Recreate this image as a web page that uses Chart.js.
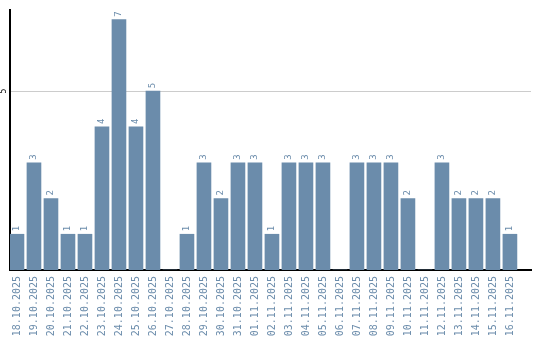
<!DOCTYPE html>
<html>
<head>
<meta charset="utf-8">
<script src="https://cdn.jsdelivr.net/npm/chart.js@4"></script>
<style>
  html, body { margin: 0; padding: 0; background: #fff; }
  #wrap { width: 540px; height: 340px; }
</style>
</head>
<body>
<div id="wrap"><canvas id="dayChart"></canvas></div>
<script>
const days = [
  "18.10.2025", "19.10.2025", "20.10.2025", "21.10.2025", "22.10.2025",
  "23.10.2025", "24.10.2025", "25.10.2025", "26.10.2025", "27.10.2025",
  "28.10.2025", "29.10.2025", "30.10.2025", "31.10.2025", "01.11.2025",
  "02.11.2025", "03.11.2025", "04.11.2025", "05.11.2025", "06.11.2025",
  "07.11.2025", "08.11.2025", "09.11.2025", "10.11.2025", "11.11.2025",
  "12.11.2025", "13.11.2025", "14.11.2025", "15.11.2025", "16.11.2025"
];

const counts = [
  1, 3, 2, 1, 1, 4, 7, 4, 5, 0,
  1, 3, 2, 3, 3, 1, 3, 3, 3, 0,
  3, 3, 3, 2, 0, 3, 2, 2, 2, 1
];

const yTicks = [5];

const barColor = "#6b8cab";
const monoFont = "'DejaVu Sans Mono', monospace";

// value labels above the bars, rotated like the date labels
const barLabels = {
  id: "barLabels",
  afterDatasetsDraw(chart) {
    const ctx = chart.ctx;
    const meta = chart.getDatasetMeta(0);
    ctx.save();
    ctx.fillStyle = barColor;
    ctx.font = "9px " + monoFont;
    ctx.textAlign = "left";
    ctx.textBaseline = "middle";
    meta.data.forEach((bar, i) => {
      if (!counts[i]) return;
      ctx.save();
      ctx.translate(bar.x, bar.y - 3);
      ctx.rotate(-Math.PI / 2);
      ctx.fillText(String(counts[i]), 0, 0);
      ctx.restore();
    });
    ctx.restore();
  }
};

// rotated y tick label
const yLabel = {
  id: "yLabel",
  afterDraw(chart) {
    const ctx = chart.ctx;
    const y = chart.scales.y;
    ctx.save();
    ctx.fillStyle = "#000";
    ctx.font = "8px " + monoFont;
    ctx.textAlign = "center";
    ctx.textBaseline = "middle";
    yTicks.forEach(v => {
      ctx.save();
      ctx.translate(4, y.getPixelForValue(v));
      ctx.rotate(-Math.PI / 2);
      ctx.fillText(String(v), 0, 0);
      ctx.restore();
    });
    ctx.restore();
  }
};

new Chart(document.getElementById("dayChart"), {
  type: "bar",
  data: {
    datasets: [{
      data: counts.map((c, i) => ({ x: i, y: c })),
      backgroundColor: barColor,
      borderWidth: 0,
      barThickness: 14
    }]
  },
  options: {
    responsive: true,
    maintainAspectRatio: false,
    animation: false,
    layout: {
      padding: { left: 10, top: 10, right: 9, bottom: 0 }
    },
    plugins: {
      legend: { display: false },
      tooltip: { enabled: false }
    },
    scales: {
      x: {
        type: "linear",
        offset: false,
        min: -0.41,
        max: 30.24,
        afterBuildTicks(scale) {
          scale.ticks = days.map((d, i) => ({ value: i }));
        },
        afterFit(scale) {
          scale.height = 70;
        },
        grid: { display: false, drawTicks: false },
        border: { display: true, color: "#000", width: 2 },
        ticks: {
          autoSkip: false,
          minRotation: 90,
          maxRotation: 90,
          padding: 6,
          color: barColor,
          font: { family: monoFont, size: 10 },
          callback: (v) => days[v]
        }
      },
      y: {
        min: 0,
        max: 7.27,
        afterBuildTicks(scale) {
          scale.ticks = yTicks.map(v => ({ value: v }));
        },
        grid: {
          drawTicks: false,
          color: "#cccccc",
          lineWidth: 1
        },
        border: { display: true, color: "#000", width: 2 },
        ticks: { display: false }
      }
    }
  },
  plugins: [barLabels, yLabel]
});
</script>
</body>
</html>
